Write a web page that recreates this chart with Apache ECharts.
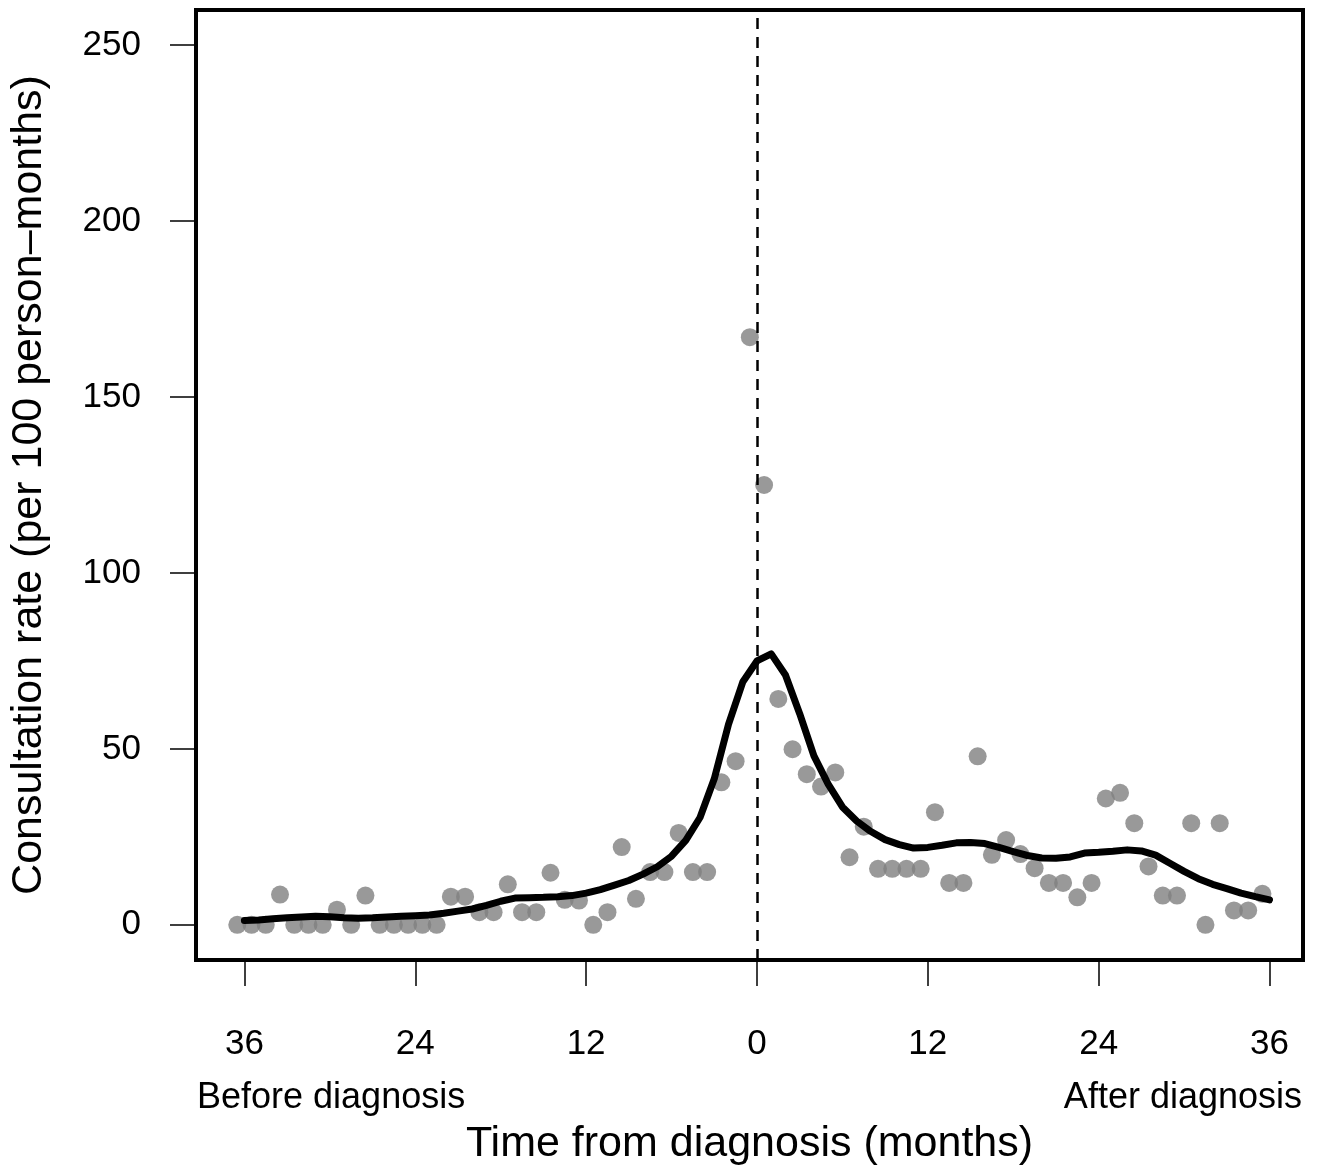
<!DOCTYPE html>
<html>
<head>
<meta charset="utf-8">
<script src="https://cdn.jsdelivr.net/npm/echarts@6/dist/echarts.min.js"></script>
<style>
  html, body { margin: 0; padding: 0; background: #fff; }
  #main { width: 1321px; height: 1171px; }
</style>
</head>
<body>
<div id="main"></div>
<script>
// monthly observed rates (point centred at half months)
var rateMonths = [-36.5, -35.5, -34.5, -33.5, -32.5, -31.5, -30.5, -29.5, -28.5, -27.5,
  -26.5, -25.5, -24.5, -23.5, -22.5, -21.5, -20.5, -19.5, -18.5, -17.5,
  -16.5, -15.5, -14.5, -13.5, -12.5, -11.5, -10.5, -9.5, -8.5, -7.5,
  -6.5, -5.5, -4.5, -3.5, -2.5, -1.5, -0.5, 0.5, 1.5, 2.5,
  3.5, 4.5, 5.5, 6.5, 7.5, 8.5, 9.5, 10.5, 11.5, 12.5,
  13.5, 14.5, 15.5, 16.5, 17.5, 18.5, 19.5, 20.5, 21.5, 22.5,
  23.5, 24.5, 25.5, 26.5, 27.5, 28.5, 29.5, 30.5, 31.5, 32.5,
  33.5, 34.5, 35.5];
var rateValues = [0, 0, 0, 8.6, 0, 0, 0, 4.3, 0, 8.3,
  0, 0, 0, 0, 0, 8, 8, 3.6, 3.6, 11.5,
  3.6, 3.6, 14.8, 7.1, 6.9, 0, 3.6, 22.1, 7.4, 15,
  15, 26.1, 15, 15, 40.5, 46.5, 167, 125, 64.2, 49.9,
  42.8, 39.3, 43.3, 19.2, 27.9, 15.9, 15.9, 15.9, 15.9, 32,
  11.9, 11.9, 47.9, 19.9, 24.1, 20.1, 16.1, 11.9, 11.9, 7.8,
  11.9, 35.9, 37.5, 28.9, 16.6, 8.3, 8.3, 28.9, 0, 28.9,
  4.1, 4.1, 8.8];

// smoothed curve
var fitMonths = [-36, -35, -34, -33, -32, -31, -30, -29, -28, -27,
  -26, -25, -24, -23, -22, -21, -20, -19, -18, -17,
  -16, -15, -14, -13, -12, -11, -10, -9, -8, -7,
  -6, -5, -4, -3, -2, -1, 0, 1, 2, 3,
  4, 5, 6, 7, 8, 9, 10, 11, 12, 13,
  14, 15, 16, 17, 18, 19, 20, 21, 22, 23,
  24, 25, 26, 27, 28, 29, 30, 31, 32, 33,
  34, 35, 36];
var fitValues = [1.2, 1.4, 1.7, 2.0, 2.2, 2.4, 2.3, 2.0, 1.9, 2.0,
  2.2, 2.4, 2.6, 2.8, 3.3, 3.9, 4.5, 5.5, 6.7, 7.6,
  7.7, 7.8, 8.0, 8.3, 9.0, 10.0, 11.3, 12.6, 14.4, 16.5,
  19.5, 24.0, 30.5, 41.5, 57, 69, 75, 77, 71, 60,
  48, 40, 33.5, 29.5, 26.5, 24.2, 22.8, 21.8, 22.0, 22.6,
  23.3, 23.4, 23.1, 22.0, 20.8, 19.7, 19.0, 18.9, 19.3, 20.4,
  20.6, 20.9, 21.3, 21.0, 19.8, 17.5, 15.2, 13.1, 11.5, 10.3,
  9.0, 8.0, 7.1];

var xTicks = [-36, -24, -12, 0, 12, 24, 36];
var yTicks = [0, 50, 100, 150, 200, 250];

var font = 'Liberation Sans, Arial, Helvetica, sans-serif';

var pts = rateMonths.map(function (m, i) { return [m, rateValues[i]]; });
var fit = fitMonths.map(function (m, i) { return [m, fitValues[i]]; });

var myChart = echarts.init(document.getElementById('main'));

var option = {
  backgroundColor: '#fff',
  animation: false,
  grid: {
    left: 195, top: 10, width: 1108, height: 952,
    show: true, borderColor: '#000', borderWidth: 4, backgroundColor: 'transparent'
  },
  xAxis: {
    type: 'value', min: -39.4, max: 38.35,
    splitLine: { show: false },
    axisLine: { show: false, onZero: false },
    axisTick: { show: true, inside: false, length: 26, customValues: xTicks,
      lineStyle: { color: '#000', width: 1.5 } },
    axisLabel: { customValues: xTicks, margin: 67, fontSize: 35, color: '#000', fontFamily: font,
      formatter: function (v) { return String(Math.abs(v)); } },
    name: 'Time from diagnosis (months)',
    nameLocation: 'middle', nameGap: 163,
    nameTextStyle: { fontSize: 43, color: '#000', fontFamily: font }
  },
  yAxis: {
    type: 'value', min: -10, max: 260,
    splitLine: { show: false },
    axisLine: { show: false, onZero: false },
    axisTick: { show: true, inside: false, length: 26, customValues: yTicks,
      lineStyle: { color: '#000', width: 1.5 } },
    axisLabel: { customValues: yTicks, margin: 55, fontSize: 35, color: '#000', fontFamily: font },
    name: 'Consultation rate (per 100 person\u2013months)',
    nameLocation: 'middle', nameGap: 145,
    nameTextStyle: { fontSize: 43, color: '#000', fontFamily: font }
  },
  graphic: [
    { type: 'text', left: 197, top: 1080,
      style: { text: 'Before diagnosis', fontSize: 36, fill: '#000', fontFamily: font } },
    { type: 'text', right: 19, top: 1080,
      style: { text: 'After diagnosis', fontSize: 36, fill: '#000', fontFamily: font } }
  ],
  series: [
    {
      type: 'scatter', data: pts, symbol: 'circle', symbolSize: 18,
      itemStyle: { color: '#808080' }, z: 2
    },
    {
      type: 'line', data: fit, symbol: 'none', smooth: false,
      lineStyle: { color: '#000', width: 7, cap: 'round', join: 'round' }, z: 3,
      markLine: {
        silent: true, symbol: 'none', label: { show: false },
        lineStyle: { color: '#000', width: 2.5, type: [11, 8] },
        data: [{ xAxis: 0 }]
      }
    }
  ]
};

myChart.setOption(option);
</script>
</body>
</html>
